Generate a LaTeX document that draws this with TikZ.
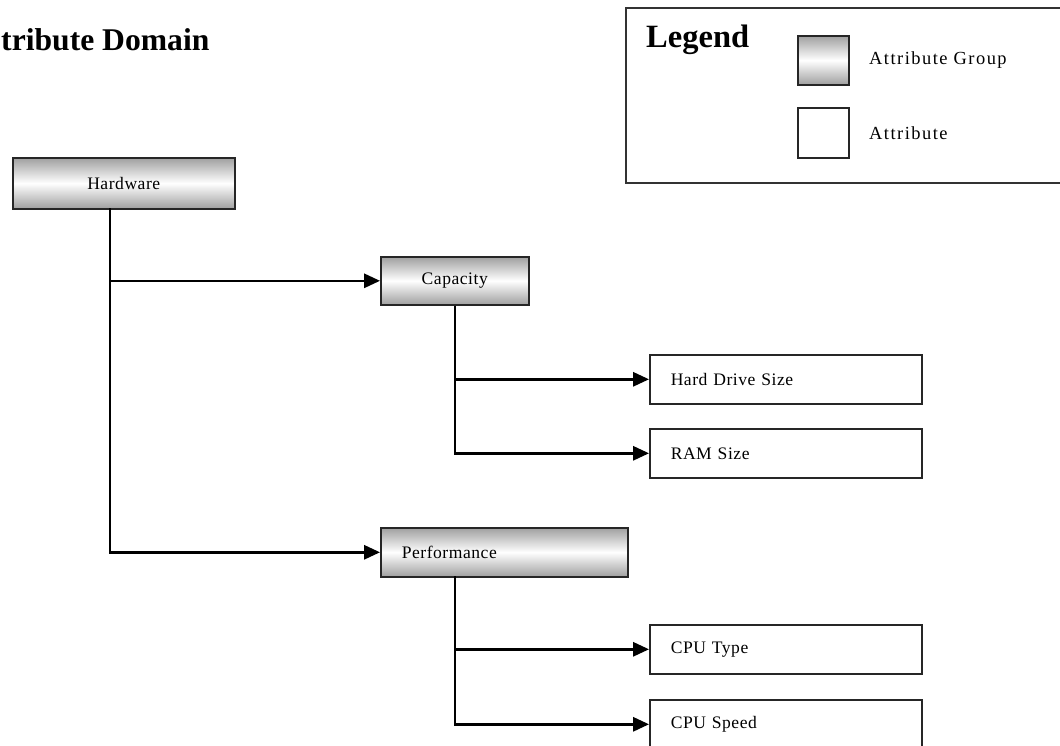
\documentclass[tikz,border=0pt]{standalone}
\usepackage{fontspec}
\setmainfont{Liberation Serif}
\newfontfamily\boxfont[LetterSpace=3]{Liberation Serif}
\newfontfamily\legfont[LetterSpace=8]{Liberation Serif}
\usetikzlibrary{arrows.meta,positioning}

\begin{document}
\begin{tikzpicture}[x=0.02cm, y=-0.02cm,
    group/.style={rectangle, draw=black!85, line width=0.9pt, top color=gray!75, bottom color=gray!75, middle color=white, minimum height=0.98cm, font=\boxfont\fontsize{10}{12}\selectfont, anchor=north west},
    attr/.style={rectangle, draw=black!85, line width=0.9pt, fill=white, minimum height=0.98cm, inner xsep=0.42cm, text width=4.6cm, align=left, font=\boxfont\fontsize{10}{12}\selectfont, anchor=north west},
    legtext/.style={anchor=west, font=\legfont\fontsize{10.5}{12}\selectfont},
    >={Triangle[length=9pt,width=8pt]}, line width=1.4pt]
        \useasboundingbox (0,0) rectangle (1060,745);
        % Title
        \node[anchor=west, inner sep=0pt, font=\fontsize{18}{21}\bfseries] (title) at (0,40) {tribute Domain};
        % Legend
        \draw[line width=1pt, draw=black!80] (626,8) rectangle (1075,183);
        \node[anchor=west, inner sep=0pt, font=\fontsize{18.5}{21}\bfseries] (legend) at (645,40) {Legend};
        \node[group, minimum width=1.02cm, minimum height=0.98cm] (lgroup) at (797,35) {};
        \node[rectangle, draw=black!85, line width=0.9pt, minimum width=1.02cm, minimum height=1cm, anchor=north west] (lattr) at (797,107) {};
        \node[legtext, right=0.25cm of lgroup] (lgtext) {Attribute Group};
        \node[legtext, right=0.25cm of lattr] (latext) {Attribute};
        % Nodes
        \node[group, minimum width=4.44cm, minimum height=1.02cm] (hw) at (12,157) {Hardware};
        \node[group, minimum width=2.96cm, minimum height=0.96cm] (cap) at (380,256) {Capacity};
        \node[attr] (hds) at (649,354) {Hard Drive Size};
        \node[attr] (ram) at (649,428) {RAM Size};
        \node[group, minimum width=4.94cm, text width=4.1cm, align=left, inner xsep=0.4cm] (perf) at (380,527) {Performance};
        \node[attr] (cput) at (649,624) {CPU Type};
        \node[attr] (cpus) at (649,699) {CPU Speed};
        % Edges
        \coordinate (hwb) at (110,208);
        \coordinate (perfb) at (455,576);
        \draw[->] (hwb) |- (cap);
        \draw[->] (hwb) |- (perf);
        \draw[->] (cap.south) |- (hds);
        \draw[->] (cap.south) |- (ram);
        \draw[->] (perfb) |- (cput);
        \draw[->] (perfb) |- (cpus);
    \end{tikzpicture}
\end{document}
